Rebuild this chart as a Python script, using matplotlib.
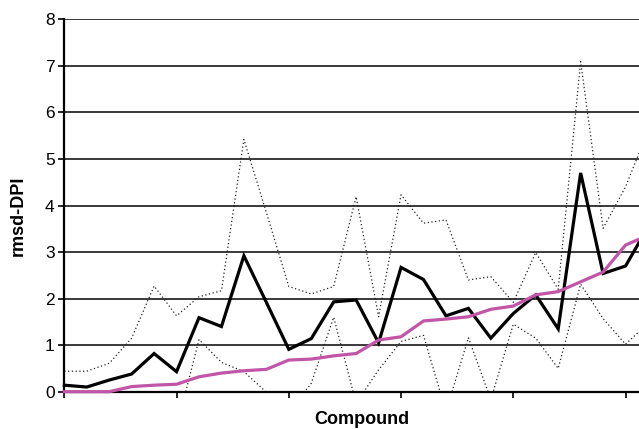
"""
rmsd-DPI per compound: mean value with +/- one standard deviation band
and the reference curve.
"""
import matplotlib
matplotlib.use('Agg')
import matplotlib.pyplot as plt

plt.rcParams['font.family'] = ['Liberation Sans', 'DejaVu Sans']

# Compound index (0-based, in sorted order)
compounds = list(range(27))

# Mean rmsd-DPI per compound
mean_rmsd = [0.14, 0.10, 0.25, 0.38, 0.82, 0.43, 1.59, 1.40, 2.92, 1.92,
             0.91, 1.14, 1.93, 1.97, 1.05, 2.67, 2.41, 1.63, 1.79, 1.15,
             1.68, 2.08, 1.35, 4.70, 2.54, 2.70, 3.54]

# Reference curve
reference = [0.00, 0.00, 0.00, 0.11, 0.14, 0.16, 0.32, 0.40, 0.45, 0.48,
             0.68, 0.70, 0.77, 0.82, 1.11, 1.18, 1.52, 1.56, 1.61, 1.77,
             1.84, 2.08, 2.15, 2.36, 2.57, 3.15, 3.36]

# mean + sd
upper = [0.44, 0.44, 0.61, 1.15, 2.27, 1.63, 2.04, 2.17, 5.42, 3.85,
         2.26, 2.10, 2.26, 4.19, 1.61, 4.23, 3.62, 3.69, 2.40, 2.47,
         1.92, 2.99, 2.20, 7.09, 3.51, 4.40, 5.61]

# mean - sd (negative values fall below the axis and are clipped)
lower = [-0.16, -0.24, -0.11, -0.39, -0.63, -0.77, 1.12, 0.63, 0.43, -0.01,
         -0.44, 0.18, 1.60, -0.25, 0.47, 1.08, 1.21, -0.43, 1.16, -0.17,
         1.45, 1.15, 0.50, 2.31, 1.57, 1.02, 1.47]

W, H = 639, 429
fig = plt.figure(figsize=(W / 100, H / 100), dpi=100)

# plot area runs past the right edge of the image
left, right = 64.3, 648.0
bottom, top = 391.7, 19.3
ax = fig.add_axes([left / W, 1 - bottom / H, (right - left) / W, (bottom - top) / H])

ax.plot(compounds, upper, color='#222222', linestyle=(0, (1, 2)), linewidth=0.9, zorder=2)
ax.plot(compounds, lower, color='#222222', linestyle=(0, (1, 2)), linewidth=0.9, zorder=2)
ax.plot(compounds, mean_rmsd, color='black', linewidth=2.3, zorder=4,
        clip_on=False, solid_joinstyle='miter')
ax.plot(compounds, reference, color='#C155A8', linewidth=2.3, zorder=5,
        clip_on=False)

ax.set_xlim(0, 26)
ax.set_ylim(0, 8)
ax.set_yticks(range(0, 9))
ax.set_xticks(range(0, 27, 5))
ax.set_xticklabels([])

# horizontal gridlines at every unit
ax.yaxis.grid(True, color='#2a2a2a', linewidth=1.3)
ax.set_axisbelow(True)

for side in ('top', 'right'):
    ax.spines[side].set_visible(False)
for side in ('left', 'bottom'):
    ax.spines[side].set_linewidth(1.6)
    ax.spines[side].set_color('black')

ax.tick_params(axis='y', direction='out', length=4, width=1.2, pad=3,
               labelsize=12.5, colors='black')
ax.tick_params(axis='x', direction='out', length=4, width=1.2)

fig.text(18 / W, 1 - 216 / H, 'rmsd-DPI', rotation=90, ha='center', va='center',
         fontsize=13, fontweight='bold')
fig.text(362 / W, 1 - 420 / H, 'Compound', ha='center', va='center',
         fontsize=13, fontweight='bold')

fig.savefig('out.png', dpi=100, facecolor='white')
